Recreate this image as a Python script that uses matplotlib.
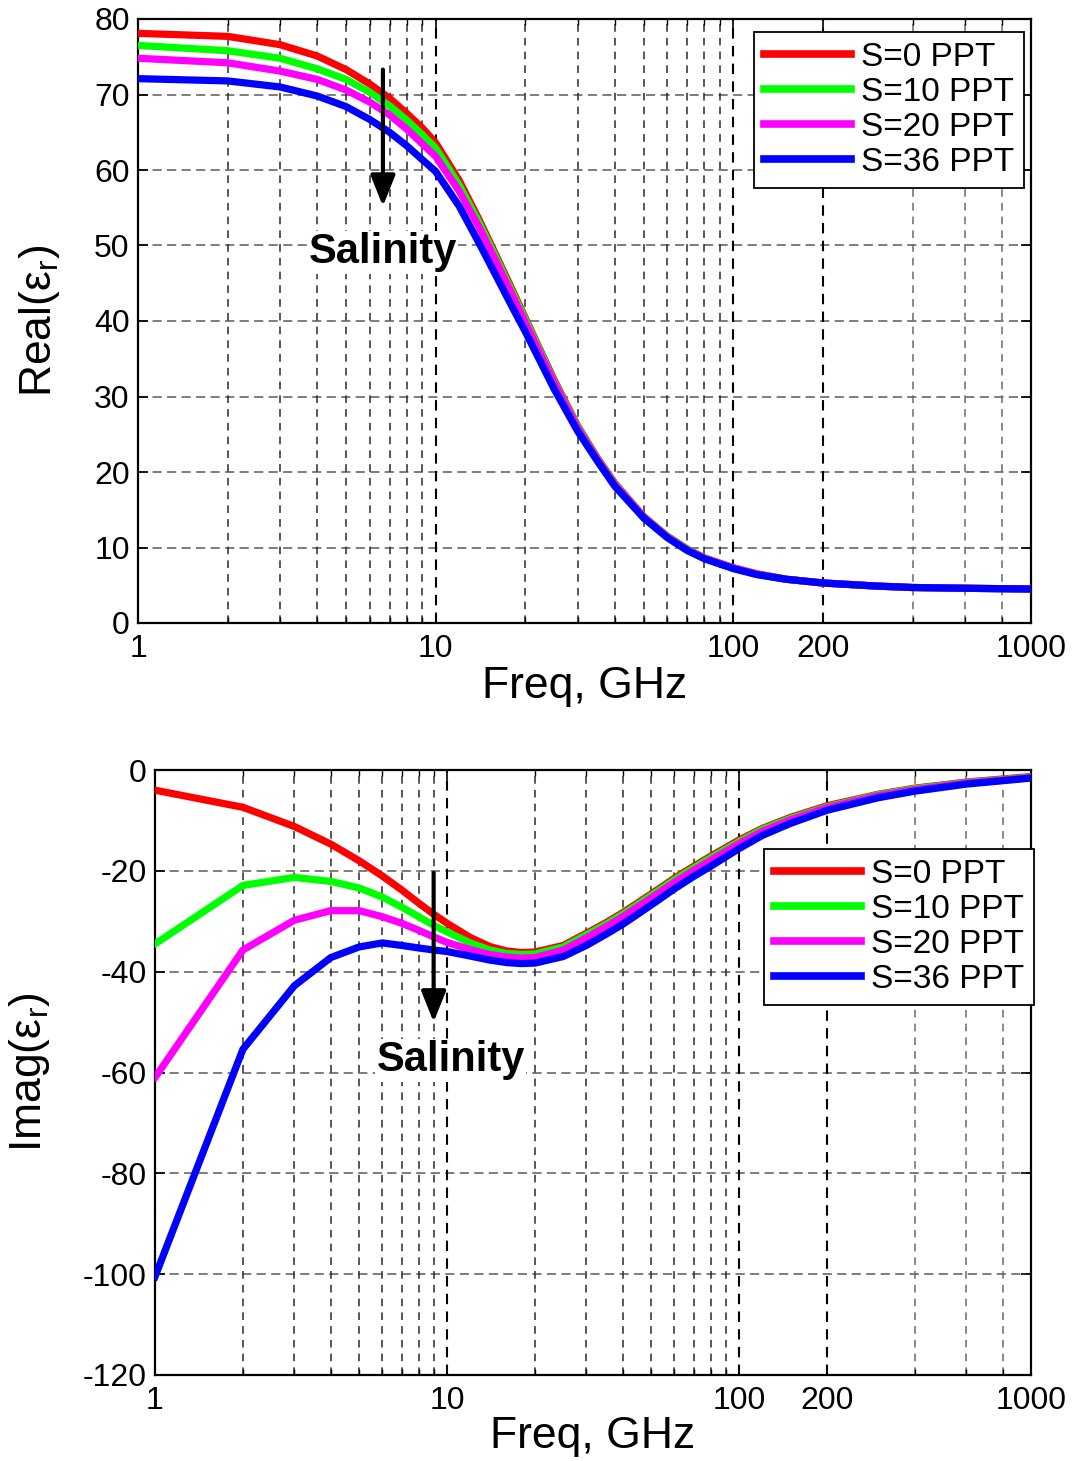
import matplotlib
matplotlib.use("Agg")
import matplotlib.pyplot as plt
from matplotlib.ticker import FixedLocator, NullFormatter, FixedFormatter

plt.rcParams['font.family'] = ['Liberation Sans', 'DejaVu Sans']
plt.rcParams['mathtext.fontset'] = 'custom'
plt.rcParams['mathtext.rm'] = 'Liberation Sans'
plt.rcParams['mathtext.it'] = 'Liberation Sans:italic'

# ---------------- data ----------------
freq = [1, 2, 3, 4, 5, 6, 7, 8, 9, 10, 12, 14, 16, 18, 20, 25, 30, 35, 40, 50,
        60, 70, 80, 100, 120, 150, 200, 300, 400, 600, 1000]

labels = ['S=0 PPT', 'S=10 PPT', 'S=20 PPT', 'S=36 PPT']
colors = ['#ff0000', '#00ff00', '#ff00ff', '#0000ff']

real_s0 = [78.1, 77.7, 76.6, 75.1, 73.3, 71.4, 69.5, 67.5, 65.6, 63.6, 58.6, 53.4, 48.6, 44.3, 40.4,
           32.2, 26.1, 21.8, 18.5, 14.1, 11.5, 9.8, 8.6, 7.3, 6.5, 5.8, 5.3, 4.9, 4.7, 4.6, 4.5]
real_s10 = [76.5, 75.8, 74.8, 73.4, 72.0, 70.3, 68.5, 66.6, 64.7, 62.9, 58.0, 53.0, 48.3, 44.0, 40.2,
            32.0, 26.0, 21.7, 18.4, 14.0, 11.5, 9.8, 8.6, 7.3, 6.5, 5.8, 5.3, 4.9, 4.7, 4.6, 4.5]
real_s20 = [74.8, 74.2, 73.1, 72.0, 70.6, 69.0, 67.3, 65.4, 63.5, 61.8, 57.2, 52.4, 47.8, 43.6, 39.8,
            31.8, 25.8, 21.6, 18.3, 14.0, 11.4, 9.7, 8.6, 7.3, 6.5, 5.8, 5.3, 4.9, 4.7, 4.6, 4.5]
real_s36 = [72.1, 71.8, 71.0, 69.8, 68.4, 66.7, 65.0, 63.2, 61.4, 59.8, 55.2, 50.3, 45.9, 42.0, 38.6,
            31.0, 25.4, 21.4, 18.1, 13.9, 11.3, 9.6, 8.5, 7.2, 6.4, 5.8, 5.3, 4.9, 4.7, 4.6, 4.5]

imag_s0 = [-4.0, -7.4, -11.2, -14.7, -18.0, -21.0, -23.8, -26.4, -28.6, -30.4, -33.2, -35.0, -35.9, -36.2,
           -36.1, -34.8, -32.4, -30.3, -28.3, -24.6, -21.5, -19.1, -17.1, -13.9, -11.6, -9.4, -7.1, -4.8,
           -3.6, -2.4, -1.3]
imag_s10 = [-34.5, -22.9, -21.3, -22.1, -23.4, -25.2, -27.2, -29.1, -30.8, -32.1, -34.3, -35.7, -36.4,
            -36.6, -36.5, -35.1, -32.7, -30.6, -28.6, -24.9, -21.8, -19.4, -17.4, -14.2, -11.8, -9.6,
            -7.3, -4.9, -3.7, -2.5, -1.4]
imag_s20 = [-61.0, -35.7, -29.8, -27.9, -27.9, -29.1, -30.4, -31.8, -33.1, -34.2, -35.6, -36.6, -37.1,
            -37.3, -37.2, -35.7, -33.3, -31.1, -29.1, -25.4, -22.3, -19.9, -17.9, -14.6, -12.2, -9.9,
            -7.5, -5.1, -3.9, -2.6, -1.5]
imag_s36 = [-100.5, -55.4, -42.8, -37.2, -35.1, -34.3, -34.8, -35.3, -35.7, -36.0, -36.9, -37.7, -38.2,
            -38.4, -38.3, -37.0, -34.8, -32.6, -30.6, -26.8, -23.6, -21.1, -19.1, -15.6, -13.0, -10.6,
            -8.0, -5.5, -4.2, -2.8, -1.6]

real_series = [real_s0, real_s10, real_s20, real_s36]
imag_series = [imag_s0, imag_s10, imag_s20, imag_s36]

xticks = [1, 10, 100, 200, 1000]
xticklabels = ['1', '10', '100', '200', '1000']
xminor = [2, 3, 4, 5, 6, 7, 8, 9, 20, 30, 40, 50, 60, 70, 80, 90, 400, 600, 800]
real_yticks = [0, 10, 20, 30, 40, 50, 60, 70, 80]
imag_yticks = [-120, -100, -80, -60, -40, -20, 0]

# ---------------- figure ----------------
W, H = 1073, 1461
fig = plt.figure(figsize=(W / 100, H / 100), dpi=100)


def px_axes(l, r, t, b):
    return fig.add_axes([l / W, 1 - b / H, (r - l) / W, (b - t) / H])


ax1 = px_axes(138, 1031, 19, 623)
ax2 = px_axes(155, 1031, 770, 1375)

TICK_FS = 23
LAB_FS = 32


def style_axes(ax, yticks, ylim):
    ax.set_xscale('log')
    ax.set_xlim(1, 1000)
    ax.set_ylim(*ylim)
    ax.xaxis.set_major_locator(FixedLocator(xticks))
    ax.xaxis.set_major_formatter(FixedFormatter(xticklabels))
    ax.xaxis.set_minor_locator(FixedLocator(xminor))
    ax.xaxis.set_minor_formatter(NullFormatter())
    ax.set_yticks(yticks)
    ax.set_yticklabels([str(v) for v in yticks])
    ax.set_axisbelow(True)
    # grid lines
    for v in yticks:
        if ylim[0] < v < ylim[1]:
            ax.axhline(v, color='#5a5a5a', lw=1.1, ls=(0, (6, 3.5)), zorder=0.5)
    for v in xticks[1:-1]:
        ax.axvline(v, color='#000000', lw=1.5, ls=(0, (5, 3.5)), zorder=0.5)
    for v in xminor:
        c = '#6a6a6a' if v >= 400 else '#2a2a2a'
        ax.axvline(v, color=c, lw=1.1, ls=(0, (5, 4)), zorder=0.5)
    ax.tick_params(which='major', direction='in', length=7, width=1.2,
                   top=True, right=True, labelsize=TICK_FS)
    ax.tick_params(axis='x', which='major', pad=8)
    ax.tick_params(axis='y', which='major', pad=6)
    ax.tick_params(which='minor', direction='in', length=4, width=1.0,
                   top=True, right=True)
    for sp in ax.spines.values():
        sp.set_linewidth(1.6)
        sp.set_color('black')


style_axes(ax1, real_yticks, (0, 80))
style_axes(ax2, imag_yticks, (-120, 0))

for ys, c, lab in zip(real_series, colors, labels):
    ax1.plot(freq, ys, color=c, lw=5.2, label=lab, zorder=3, solid_joinstyle='round')
for ys, c, lab in zip(imag_series, colors, labels):
    ax2.plot(freq, ys, color=c, lw=5.2, label=lab, zorder=3, solid_joinstyle='round')

leg_kw = dict(fontsize=24, frameon=True, fancybox=False, framealpha=1, edgecolor='black',
              handlelength=2.6, handletextpad=0.3, labelspacing=0.12, borderpad=0.3,
              borderaxespad=0.0)
leg1 = ax1.legend(loc='upper right', bbox_to_anchor=((1024 - 138) / 893, (623 - 32) / 604), **leg_kw)
leg2 = ax2.legend(loc='upper right', bbox_to_anchor=((1034 - 155) / 876, (1375 - 849) / 605), **leg_kw)
for leg in (leg1, leg2):
    leg.get_frame().set_linewidth(1.3)
    for h in leg.legend_handles:
        h.set_linewidth(5.5)

# axis labels
ax1.set_xlabel('Freq, GHz', fontsize=LAB_FS)
ax2.set_xlabel('Freq, GHz', fontsize=LAB_FS)
ax1.set_ylabel('Real(\u03b5$_{\\mathrm{r}}$)', fontsize=LAB_FS)
ax2.set_ylabel('Imag(\u03b5$_{\\mathrm{r}}$)', fontsize=LAB_FS)
ax1.xaxis.set_label_coords(0.5, (623 - 666) / 604)
ax2.xaxis.set_label_coords(0.5, (1375 - 1416) / 605)
ax1.yaxis.set_label_coords((62 - 138) / 893, 0.5)
ax2.yaxis.set_label_coords((52 - 155) / 876, 0.5)

# salinity arrows and text
arrow_kw = dict(arrowstyle='-|>,head_length=0.45,head_width=0.18', color='black', lw=3,
                mutation_scale=42, shrinkA=0, shrinkB=0)
ax1.annotate('', xy=(6.65, 55.2), xytext=(6.65, 73.3), arrowprops=arrow_kw, zorder=5)
ax2.annotate('', xy=(9.0, -50.0), xytext=(9.0, -20.4), arrowprops=arrow_kw, zorder=5)
ax1.text(6.65, 49.1, 'Salinity', fontsize=30, fontweight='bold', ha='center', va='center',
         bbox=dict(facecolor='white', edgecolor='none', pad=1), zorder=4)
ax2.text(10.3, -57.6, 'Salinity', fontsize=30, fontweight='bold', ha='center', va='center',
         bbox=dict(facecolor='white', edgecolor='none', pad=1), zorder=4)

fig.savefig('out.png', dpi=100)
